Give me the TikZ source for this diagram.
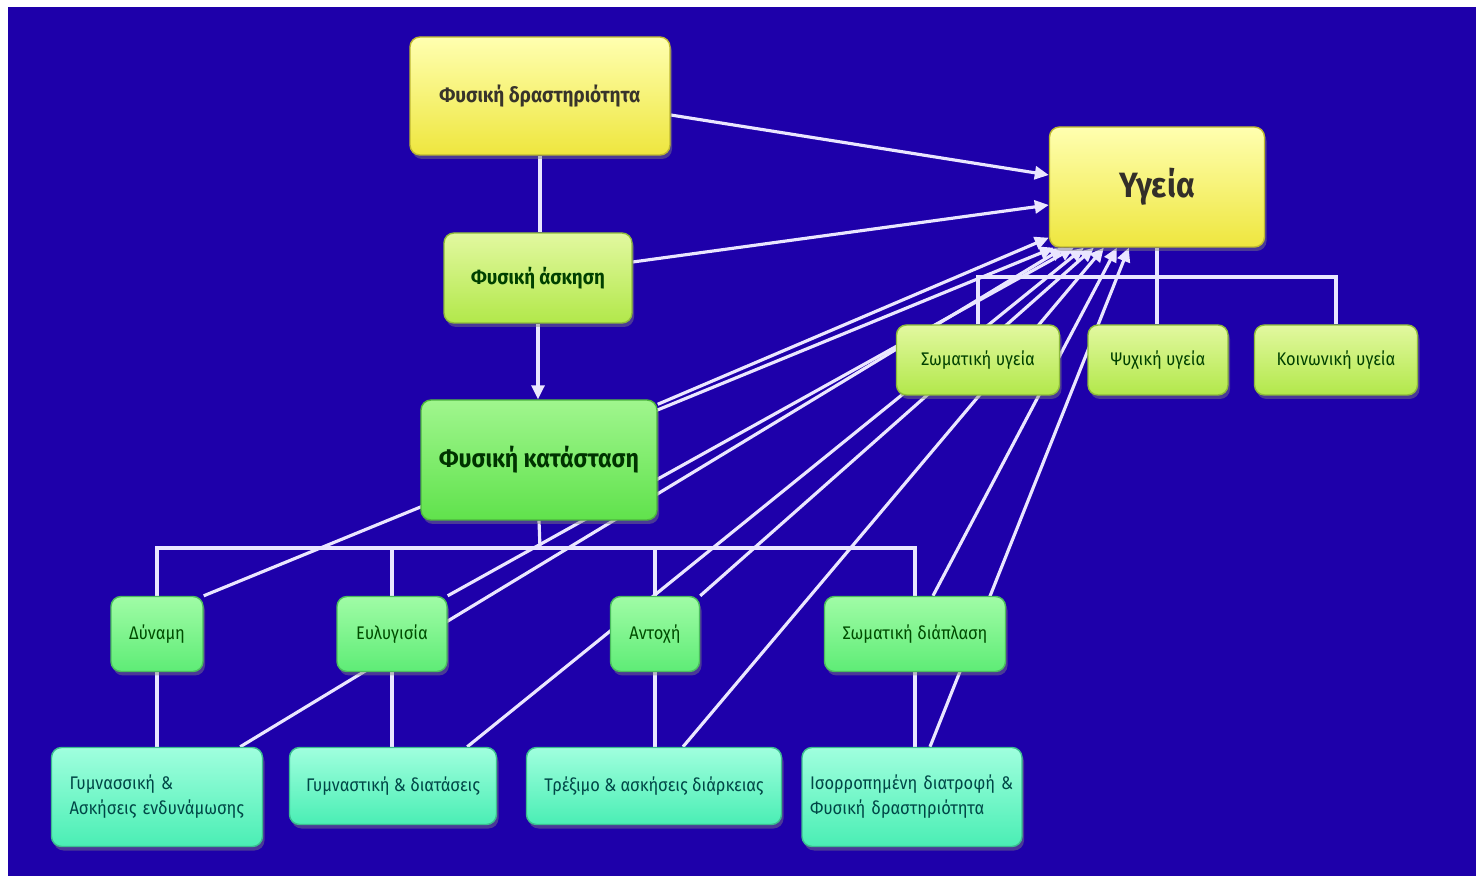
\documentclass[tikz,border=0pt]{standalone}
\usepackage{fontspec}
\setmainfont[FakeStretch=0.9]{Fira Sans}
\usetikzlibrary{arrows.meta,shadows}
\pgfdeclarelayer{bg}
\pgfsetlayers{bg,main}

\definecolor{bgblue}{RGB}{30,0,170}
\definecolor{wirecol}{RGB}{234,230,255}
\definecolor{ylwtop}{RGB}{255,255,176}
\definecolor{ylwbot}{RGB}{238,230,62}
\definecolor{lgrtop}{RGB}{226,248,160}
\definecolor{lgrbot}{RGB}{178,232,74}
\definecolor{grntop}{RGB}{160,246,142}
\definecolor{grnbot}{RGB}{96,226,76}
\definecolor{mgrtop}{RGB}{160,252,166}
\definecolor{mgrbot}{RGB}{94,236,118}
\definecolor{aqtop}{RGB}{160,255,222}
\definecolor{aqbot}{RGB}{74,238,180}

\tikzset{
  box/.style={rectangle, rounded corners=1mm, align=center, inner sep=0pt,
    line width=0.4pt,
    drop shadow={shadow xshift=0.2mm, shadow yshift=-0.4mm, opacity=0.45}},
  ylw/.style={box, top color=ylwtop, bottom color=ylwbot, draw=ylwbot!80!black,
    text=black!80!olive, font=\bfseries\fontsize{6}{7.5}\selectfont},
  lgr/.style={box, top color=lgrtop, bottom color=lgrbot, draw=lgrbot!80!black,
    text=green!25!black, font=\fontsize{5.2}{7}\selectfont},
  grn/.style={box, top color=grntop, bottom color=grnbot, draw=grnbot!80!black,
    text=green!20!black, font=\bfseries\fontsize{7.3}{9}\selectfont},
  mgr/.style={box, top color=mgrtop, bottom color=mgrbot, draw=mgrbot!80!black,
    text=green!30!black, font=\fontsize{5.2}{7}\selectfont},
  aqua/.style={box, top color=aqtop, bottom color=aqbot, draw=aqbot!80!black,
    text=teal!55!black, font=\fontsize{5.2}{7.1}\selectfont},
  wire/.style={draw=wirecol, line width=0.9pt},
  toy/.style={wire, -{Triangle[length=1.4mm,width=1.3mm]}},
}

\begin{document}
\begin{tikzpicture}[x=0.1mm,y=-0.1mm]
\useasboundingbox (0,0) rectangle (1482,880);
%\draw (0,0) grid[step=100] (1482,880);

% top
\node[ylw, minimum width=26mm, minimum height=11.8mm] (actv) at (540,96) {Φυσική δραστηριότητα};
\node[ylw, minimum width=21.5mm, minimum height=12mm,
  font=\bfseries\fontsize{10}{12}\selectfont, text=black!85!olive] (ygeia) at (1157,187) {Υγεία};
\node[lgr, minimum width=18.8mm, minimum height=9mm,
  font=\bfseries\fontsize{5.9}{7.5}\selectfont] (askisi) at (538,278) {Φυσική άσκηση};
\node[grn, minimum width=23.6mm, minimum height=12mm] (katastasi) at (539,460) {Φυσική κατάσταση};

% kinds of health
\node[lgr, minimum width=16.3mm, minimum height=7mm] (somyg) at (978,360) {Σωματική υγεία};
\node[lgr, minimum width=14mm, minimum height=7mm] (psyx) at (1158,360) {Ψυχική υγεία};
\node[lgr, minimum width=16.3mm, minimum height=7mm] (koin) at (1336,360) {Κοινωνική υγεία};

% parts of fitness
\node[mgr, minimum width=9.2mm, minimum height=7.5mm] (dyn) at (157,634) {Δύναμη};
\node[mgr, minimum width=11mm, minimum height=7.5mm] (eyl) at (392,634) {Ευλυγισία};
\node[mgr, minimum width=8.9mm, minimum height=7.5mm] (anto) at (655,634) {Αντοχή};
\node[mgr, minimum width=18.1mm, minimum height=7.5mm] (diapl) at (915,634) {Σωματική διάπλαση};

% ways
\node[aqua, minimum height=9.9mm, text width=17.5mm, inner xsep=1.8mm, align=left]
  (gymn) at (157,797) {Γυμνασσική~\&\\Ασκήσεις ενδυνάμωσης};
\node[aqua, minimum width=20.7mm, minimum height=7.7mm] (diat) at (393,786) {Γυμναστική \& διατάσεις};
\node[aqua, minimum width=25.5mm, minimum height=7.7mm] (trex) at (654,786) {Τρέξιμο \& ασκήσεις διάρκειας};
\node[aqua, minimum height=9.9mm, text width=20.4mm, inner xsep=0.8mm, align=left]
  (isor) at (912,797) {Ισορροπημένη διατροφή~\&\\Φυσική δραστηριότητα};

\begin{pgfonlayer}{bg}
\fill[bgblue] (8,7) rectangle (1476,876);

% tree lines
\draw[wire] (actv.south) -- (actv.south |- askisi.north);
\draw[toy] (askisi.south) -- (askisi.south |- katastasi.north);
\coordinate (busk) at (540,548);
\draw[wire] (katastasi.south) -- (busk);
\foreach \n in {dyn,eyl,anto,diapl}
  \draw[wire] (\n.north) |- (busk);
\foreach \a/\b in {dyn/gymn,eyl/diat,anto/trex,diapl/isor}
  \draw[wire] (\a.south) -- (\a.south |- \b.north);

\coordinate (busy) at (1158,277);
\draw[wire] (ygeia.south) -- (ygeia.south |- psyx.north);
\foreach \n in {somyg,koin}
  \draw[wire] (\n.north) |- (busy);

% arrows to health
\draw[toy] ([yshift=-1.9mm]actv.east) -- ([yshift=1.2mm]ygeia.west);
\draw[toy] ([yshift=1.6mm]askisi.east) -- ([yshift=-1.8mm]ygeia.west);
\draw[toy] ([yshift=-0.5mm]katastasi.north east) -- ([yshift=1mm]ygeia.south west);
\draw[toy] (dyn.north east) -- ([xshift=0.5mm]ygeia.south west);
\draw[toy] ([xshift=-2.3mm]gymn.north east) -- ([xshift=1.5mm]ygeia.south west);
\draw[toy] (eyl.north east) -- ([xshift=2.5mm]ygeia.south west);
\draw[toy] ([xshift=-3mm]diat.north east) -- ([xshift=3.5mm]ygeia.south west);
\draw[toy] (anto.north east) -- ([xshift=4.5mm]ygeia.south west);
\draw[toy] ([xshift=2.9mm]trex.north) -- ([xshift=5.5mm]ygeia.south west);
\draw[toy] ([xshift=1.8mm]diapl.north) -- ([xshift=6.8mm]ygeia.south west);
\draw[toy] ([xshift=1.8mm]isor.north) -- ([xshift=8mm]ygeia.south west);
\end{pgfonlayer}
\end{tikzpicture}
\end{document}
